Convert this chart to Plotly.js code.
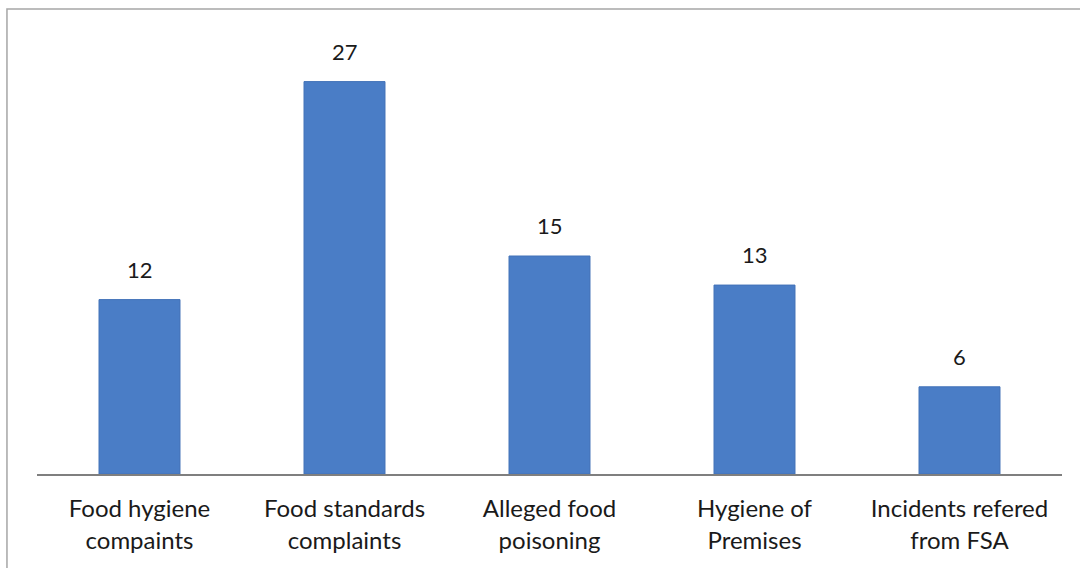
<!DOCTYPE html>
<html>
<head>
<meta charset="utf-8">
<script src="https://cdn.plot.ly/plotly-3.0.1.min.js"></script>
<style>
html,body{margin:0;padding:0;background:#fff;}
#chart{width:1080px;height:568px;}
</style>
</head>
<body>
<div id="chart"></div>
<script>
const categories = ["Food hygiene<br>compaints", "Food standards<br>complaints", "Alleged food<br>poisoning", "Hygiene of<br>Premises", "Incidents refered<br>from FSA"];
const values = [12, 27, 15, 13, 6];
const valueLabels = ["12", "27", "15", "13", "6"];

const trace = {
  type: 'bar',
  x: categories,
  y: values,
  marker: {color: '#4a7dc6', line: {color: '#4272b8', width: 1}},
  hoverinfo: 'skip'
};

const annotations = categories.map((c, i) => ({
  x: c, y: values[i], xref: 'x', yref: 'y',
  text: valueLabels[i], showarrow: false,
  yanchor: 'bottom', yshift: 15,
  font: {family: 'Lato, "Open Sans", sans-serif', size: 22, color: '#1a1a1a'}
}));

const layout = {
  width: 1080, height: 568,
  margin: {l: 37, r: 18, t: 38, b: 94},
  paper_bgcolor: '#ffffff',
  plot_bgcolor: '#ffffff',
  bargap: 0.605,
  showlegend: false,
  xaxis: {
    showline: true, linecolor: '#7f7f7f', linewidth: 1.5,
    ticks: '', showgrid: false, zeroline: false,
    tickfont: {family: 'Lato, "Open Sans", sans-serif', size: 24, color: '#1a1a1a'},
    ticklabelstandoff: 13
  },
  yaxis: {
    range: [0, 30], visible: false, showgrid: false, zeroline: false
  },
  annotations: annotations,
  shapes: [{
    type: 'rect', xref: 'paper', yref: 'paper',
    x0: -0.0293, x1: 1.1, y0: -0.4, y1: 1.0665,
    line: {color: '#a6a6a6', width: 1.5}, fillcolor: 'rgba(0,0,0,0)', layer: 'below'
  }]
};

Plotly.newPlot('chart', [trace], layout, {displayModeBar: false, staticPlot: true});
</script>
</body>
</html>
